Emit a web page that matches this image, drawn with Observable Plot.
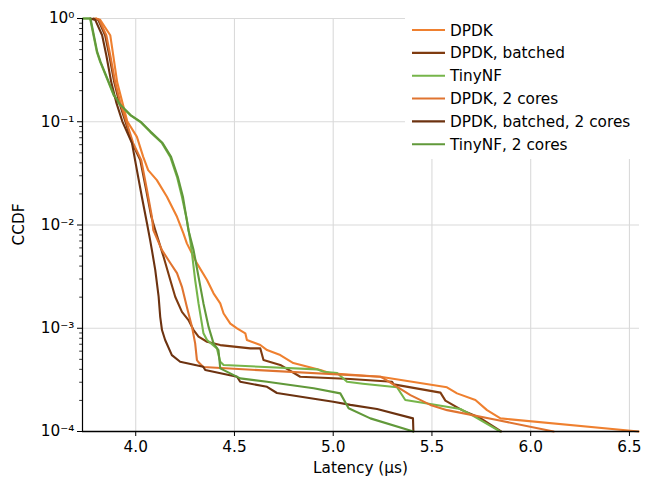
<!DOCTYPE html>
<html><head><meta charset="utf-8">
<script src="https://cdn.jsdelivr.net/npm/d3@7"></script>
<script src="https://cdn.jsdelivr.net/npm/@observablehq/plot@0.6"></script>
<style>body{margin:0;background:#fff}</style>
</head><body><div id="chart"></div>
<script>
// ---- data ----
const seriesNames = ["DPDK", "DPDK, batched", "TinyNF", "DPDK, 2 cores", "DPDK, batched, 2 cores", "TinyNF, 2 cores"];
const seriesColors = ["#ef802f", "#7f3b10", "#76b54a", "#e07430", "#6c3210", "#61993a"];

const dpdkX = [3.795, 3.820, 3.871, 3.886, 3.906, 3.932, 3.957, 4.006, 4.038, 4.063, 4.107, 4.158, 4.209, 4.241, 4.259, 4.310, 4.361, 4.394, 4.428, 4.445, 4.479, 4.513, 4.555, 4.563, 4.631, 4.665, 4.732, 4.798, 4.935, 4.985, 5.239, 5.576, 5.627, 5.720, 5.779, 5.847, 6.547];
const dpdkY = [1, 0.97, 0.689, 0.441, 0.242, 0.155, 0.101, 0.0714, 0.0457, 0.0340, 0.0272, 0.0188, 0.0120, 0.00835, 0.00664, 0.00425, 0.00293, 0.00218, 0.00174, 0.00139, 0.00111, 0.000997, 0.000893, 0.000769, 0.000688, 0.000615, 0.000550, 0.000460, 0.000394, 0.000366, 0.000339, 0.000268, 0.000234, 0.000202, 0.000161, 0.000134, 0.0001];

const batchedX = [3.785, 3.810, 3.845, 3.866, 3.891, 3.916, 3.947, 3.982, 4.023, 4.053, 4.079, 4.099, 4.141, 4.175, 4.200, 4.234, 4.267, 4.293, 4.318, 4.361, 4.428, 4.580, 4.631, 4.647, 4.732, 4.833, 5.087, 5.298, 5.306, 5.543, 5.568, 5.652, 5.745, 5.850];
const batchedY = [1, 0.97, 0.689, 0.441, 0.242, 0.155, 0.101, 0.0621, 0.0425, 0.0218, 0.0120, 0.00893, 0.00492, 0.00293, 0.00202, 0.00144, 0.00120, 0.000961, 0.000828, 0.000740, 0.000687, 0.000638, 0.000638, 0.000492, 0.000441, 0.000339, 0.000322, 0.000303, 0.000286, 0.000238, 0.000199, 0.000161, 0.000135, 0.0001];

const tinyX = [3.734, 3.769, 3.786, 3.803, 3.820, 3.854, 3.888, 3.921, 3.972, 4.023, 4.073, 4.133, 4.175, 4.209, 4.234, 4.259, 4.276, 4.285, 4.301, 4.318, 4.335, 4.343, 4.361, 4.411, 4.428, 4.445, 4.918, 4.951, 5.020, 5.070, 5.150, 5.323, 5.365, 5.492, 5.644, 5.711, 5.846];
const tinyY = [1, 1, 0.689, 0.475, 0.380, 0.263, 0.181, 0.145, 0.116, 0.0998, 0.0798, 0.0621, 0.0457, 0.0293, 0.0188, 0.0112, 0.00714, 0.00531, 0.00293, 0.00174, 0.00111, 0.000893, 0.000769, 0.000639, 0.000474, 0.000440, 0.000400, 0.000379, 0.000368, 0.000303, 0.000290, 0.000268, 0.000202, 0.000185, 0.000165, 0.000141, 0.0001];

const dpdk2X = [3.800, 3.815, 3.851, 3.871, 3.896, 3.921, 3.952, 3.987, 4.028, 4.057, 4.082, 4.089, 4.133, 4.175, 4.209, 4.234, 4.259, 4.285, 4.301, 4.310, 4.317, 4.342, 5.239, 5.255, 5.391, 5.492, 5.577, 5.830, 6.116];
const dpdk2Y = [1, 0.97, 0.689, 0.441, 0.242, 0.155, 0.101, 0.0621, 0.0425, 0.0218, 0.0120, 0.00893, 0.00571, 0.00428, 0.00342, 0.00252, 0.00161, 0.00103, 0.000714, 0.000492, 0.000471, 0.000421, 0.000339, 0.000327, 0.000225, 0.000181, 0.000161, 0.000129, 0.0001];

const batched2X = [3.770, 3.795, 3.830, 3.851, 3.876, 3.901, 3.932, 3.981, 4.006, 4.031, 4.057, 4.073, 4.082, 4.099, 4.116, 4.124, 4.133, 4.149, 4.183, 4.225, 4.342, 4.352, 4.513, 4.529, 4.665, 4.715, 5.000, 5.087, 5.222, 5.404, 5.406];
const batched2Y = [1, 0.97, 0.689, 0.441, 0.242, 0.155, 0.101, 0.0621, 0.0340, 0.0188, 0.0104, 0.00714, 0.00571, 0.00366, 0.00202, 0.00129, 0.000961, 0.000769, 0.000550, 0.000474, 0.000424, 0.000394, 0.000339, 0.000303, 0.000271, 0.000236, 0.000194, 0.000181, 0.000165, 0.000134, 0.0001];

const tiny2X = [3.734, 3.771, 3.788, 3.805, 3.822, 3.856, 3.890, 3.923, 3.974, 4.025, 4.076, 4.136, 4.179, 4.213, 4.239, 4.267, 4.293, 4.318, 4.343, 4.369, 4.394, 4.419, 4.428, 4.529, 4.665, 4.901, 5.036, 5.078, 5.188, 5.406];
const tiny2Y = [1, 1, 0.689, 0.475, 0.380, 0.263, 0.181, 0.145, 0.116, 0.0998, 0.0798, 0.0621, 0.0457, 0.0293, 0.0188, 0.00891, 0.00571, 0.00315, 0.00174, 0.00103, 0.000714, 0.000615, 0.000409, 0.000327, 0.000303, 0.000262, 0.000234, 0.000168, 0.000134, 0.0001];

const xTicks = [4.0, 4.5, 5.0, 5.5, 6.0, 6.5];
const yTicks = [1e-4, 1e-3, 1e-2, 1e-1, 1];
const yTickLabels = ["10⁻⁴", "10⁻³", "10⁻²", "10⁻¹", "10⁰"];
const yMinorTicks = [-4, -3, -2, -1].flatMap(k => [2,3,4,5,6,7,8,9].map(m => m * Math.pow(10, k)));
const xDomain = [3.7305, 6.551];
const yDomain = [1e-4, 1];
const xLabel = "Latency (µs)";
const yLabel = "CCDF";

// ---- build table ----
const seriesX = [dpdkX, batchedX, tinyX, dpdk2X, batched2X, tiny2X];
const seriesY = [dpdkY, batchedY, tinyY, dpdk2Y, batched2Y, tiny2Y];
const rows = seriesNames.flatMap((name, s) => seriesX[s].map((x, i) => ({series: name, x, y: seriesY[s][i]})));

const W = 653, H = 479, mL = 82, mR = 14, mT = 18, mB = 48;
const font = "DejaVu Sans";
const fs = 15.3;

const chart = Plot.plot({
  width: W, height: H,
  marginLeft: mL, marginRight: mR, marginTop: mT, marginBottom: mB,
  style: {fontFamily: font, fontSize: fs + "px", background: "white", color: "black"},
  x: {domain: xDomain, label: null},
  y: {type: "log", domain: yDomain, label: null},
  color: {domain: seriesNames, range: seriesColors},
  marks: [
    Plot.gridX(xTicks, {stroke: "#dadada", strokeOpacity: 1, strokeWidth: 1.1}),
    Plot.gridY(yTicks, {stroke: "#dadada", strokeOpacity: 1, strokeWidth: 1.1}),
    ...seriesNames.map(name => Plot.line(rows.filter(d => d.series === name), {
      x: "x", y: "y", stroke: "series", strokeWidth: 2.1, strokeLinejoin: "round", curve: "linear"
    })),
    Plot.axisX(xTicks, {tickSize: 5, tickPadding: 5, tickFormat: d3.format(".1f"), fontSize: fs, label: null, strokeWidth: 1}),
    Plot.axisY(yTicks, {tickSize: 5, tickPadding: 3, tickFormat: (d) => yTickLabels[yTicks.indexOf(d)], fontSize: fs, label: null, strokeWidth: 1}),
    Plot.axisY(yMinorTicks, {tickSize: 2.8, tickFormat: () => "", label: null, strokeWidth: 0.8}),
    Plot.ruleX([xDomain[0]], {stroke: "black", strokeWidth: 1.2}),
    Plot.ruleY([yDomain[0]], {stroke: "black", strokeWidth: 1.4})
  ]
});
document.getElementById("chart").appendChild(chart);

const svg = d3.select(chart);
// axis titles
svg.append("text").attr("x", (mL + W - mR) / 2).attr("y", H - 6)
  .attr("text-anchor", "middle").attr("font-family", font).attr("font-size", fs).text(xLabel);
svg.append("text").attr("transform", `translate(24,${(mT + H - mB) / 2}) rotate(-90)`)
  .attr("text-anchor", "middle").attr("font-family", font).attr("font-size", fs).text(yLabel);

// legend
const lg = svg.append("g");
lg.append("rect").attr("x", 405).attr("y", 11).attr("width", W - mR - 405 + 1).attr("height", 148).attr("fill", "white");
seriesNames.forEach((name, i) => {
  const cy = 30 + i * 22.85;
  lg.append("line").attr("x1", 412).attr("x2", 445).attr("y1", cy).attr("y2", cy)
    .attr("stroke", seriesColors[i]).attr("stroke-width", 2.1);
  lg.append("text").attr("x", 450).attr("y", cy).attr("dy", "0.36em").attr("text-anchor", "start")
    .attr("font-family", font).attr("font-size", fs).text(name);
});
</script></body></html>
